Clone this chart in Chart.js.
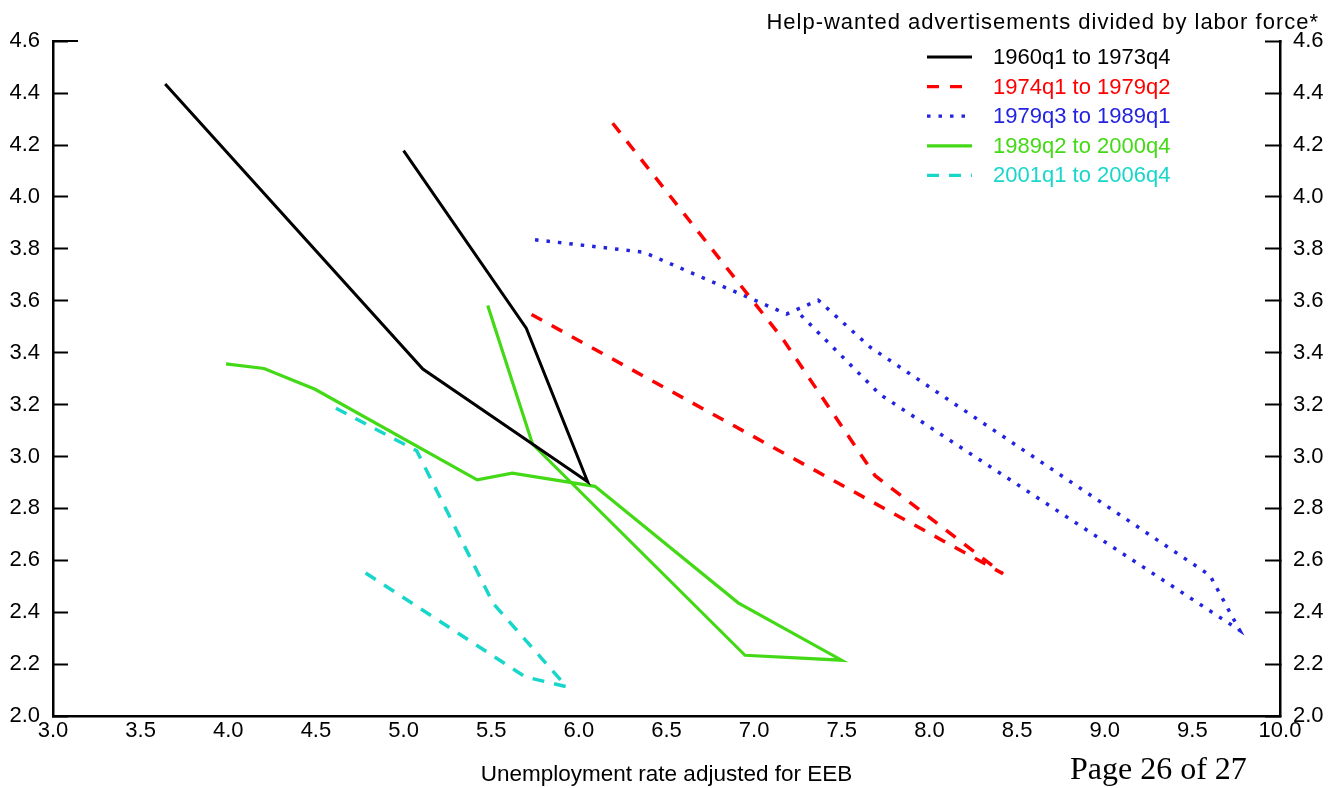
<!DOCTYPE html>
<html>
<head>
<meta charset="utf-8">
<script src="https://cdn.jsdelivr.net/npm/chart.js@4.4.1/dist/chart.umd.min.js"></script>
<style>
  html, body { margin: 0; padding: 0; background: #fff; }
</style>
</head>
<body>
<canvas id="canvas" width="1340" height="788"></canvas>
<script>
// periods shown in the legend
var periods = ['1960q1 to 1973q4', '1974q1 to 1979q2', '1979q3 to 1989q1', '1989q2 to 2000q4', '2001q1 to 2006q4'];
var colors = ['#000000', '#ff0000', '#2323e0', '#44d916', '#19d6cb'];

// tick labels
var xTicks = [3.0, 3.5, 4.0, 4.5, 5.0, 5.5, 6.0, 6.5, 7.0, 7.5, 8.0, 8.5, 9.0, 9.5, 10.0];
var yTicks = [2.0, 2.2, 2.4, 2.6, 2.8, 3.0, 3.2, 3.4, 3.6, 3.8, 4.0, 4.2, 4.4, 4.6];

// unemployment rate (x) and help-wanted ratio (y)
var u6073 = [3.64, 5.11, 6.05, 5.70, 5.00];
var v6073 = [4.435, 3.337, 2.903, 3.494, 4.178];

var u7479 = [5.73, 8.42, 7.69, 7.16, 6.16];
var v7479 = [3.547, 2.548, 2.926, 3.456, 4.312];

var u7989 = [5.75, 6.37, 7.185, 7.366, 7.662, 9.60, 9.77, 7.718, 7.235];
var v7989 = [3.835, 3.787, 3.549, 3.602, 3.421, 2.542, 2.330, 3.239, 3.566];

var u8900 = [5.48, 5.736, 6.948, 7.499, 6.909, 6.092, 5.62, 5.42, 4.495, 4.204, 3.987];
var v8900 = [3.582, 3.047, 2.234, 2.215, 2.436, 2.885, 2.936, 2.910, 3.259, 3.339, 3.357];

var u0106 = [4.614, 5.075, 5.512, 5.930, 5.693, 4.747];
var v0106 = [3.186, 3.022, 2.433, 2.113, 2.151, 2.567];

var FONT = "'Liberation Sans', Arial, Helvetica, sans-serif";

// pair up x and y arrays into points
function toPoints(xs, ys) {
  return xs.map(function (x, i) { return { x: x, y: ys[i] }; });
}

var seriesX = [u6073, u7479, u7989, u8900, u0106];
var seriesY = [v6073, v7479, v7989, v8900, v0106];
var dashes = [[], [12, 11], [3.5, 8], [], [12, 10]];
var widths = [3, 3.5, 3.5, 3.2, 3.5];

var datasets = periods.map(function (p, i) {
  return {
    label: p,
    data: toPoints(seriesX[i], seriesY[i]),
    borderColor: colors[i],
    backgroundColor: colors[i],
    borderWidth: widths[i],
    borderDash: dashes[i],
    borderCapStyle: 'butt',
    borderJoinStyle: 'miter',
    showLine: true,
    pointRadius: 0,
    tension: 0
  };
});

// legend, header and page footer drawn on top
var extras = {
  id: 'extras',
  afterDraw: function (chart) {
    var ctx = chart.ctx;
    var ya = chart.scales.y;
    ctx.save();

    // longer top tick on left axis
    ctx.strokeStyle = '#000';
    ctx.lineWidth = 2;
    var yTop = Math.round(ya.getPixelForValue(4.6));
    ctx.beginPath();
    ctx.moveTo(chart.chartArea.left, yTop);
    ctx.lineTo(chart.chartArea.left + 25, yTop);
    ctx.stroke();

    // header
    ctx.fillStyle = '#000';
    ctx.font = '22px ' + FONT;
    ctx.textAlign = 'right';
    ctx.textBaseline = 'middle';
    try { ctx.letterSpacing = '1px'; } catch (e) {}
    ctx.fillText('Help-wanted advertisements divided by labor force*', 1319, 23);
    try { ctx.letterSpacing = '0px'; } catch (e) {}

    // legend
    chart.data.datasets.forEach(function (ds, i) {
      var ly = 57 + i * 29.6;
      ctx.strokeStyle = ds.borderColor;
      ctx.lineWidth = 3.2;
      ctx.setLineDash(ds.borderDash);
      ctx.beginPath();
      ctx.moveTo(927, ly);
      ctx.lineTo(972, ly);
      ctx.stroke();
      ctx.setLineDash([]);
      ctx.fillStyle = ds.borderColor;
      ctx.font = '22px ' + FONT;
      ctx.textAlign = 'left';
      ctx.textBaseline = 'middle';
      ctx.fillText(ds.label, 993, ly + 1);
    });

    // page footer
    ctx.fillStyle = '#000';
    ctx.font = "32px 'Liberation Serif', 'Times New Roman', serif";
    ctx.textAlign = 'left';
    ctx.textBaseline = 'alphabetic';
    ctx.fillText('Page 26 of 27', 1070, 779);
    ctx.restore();
  }
};

function yAxis(pos, w) {
  return {
    type: 'linear',
    position: pos,
    min: 2,
    max: 4.6,
    afterBuildTicks: function (s) { s.ticks = yTicks.map(function (v) { return { value: v }; }); },
    afterFit: function (s) { s.width = w; },
    ticks: {
      color: '#000',
      font: { size: 22, family: FONT },
      padding: 28,
      callback: function (v) { return Number(v).toFixed(1); }
    },
    grid: {
      drawOnChartArea: false,
      drawTicks: true,
      tickLength: -15,
      tickWidth: 2,
      tickColor: '#000'
    },
    border: { display: true, color: '#000', width: 2.5 }
  };
}

new Chart(document.getElementById('canvas'), {
  type: 'scatter',
  data: { datasets: datasets },
  plugins: [extras],
  options: {
    responsive: false,
    animation: false,
    layout: { padding: { top: 39, left: 0, right: 0, bottom: 0 } },
    plugins: {
      legend: { display: false },
      tooltip: { enabled: false },
      title: { display: false }
    },
    scales: {
      x: {
        type: 'linear',
        position: 'bottom',
        min: 3,
        max: 10,
        afterBuildTicks: function (s) { s.ticks = xTicks.map(function (v) { return { value: v }; }); },
        afterFit: function (s) { s.height = 72; },
        ticks: {
          color: '#000',
          font: { size: 22, family: FONT },
          padding: 2,
          maxRotation: 0,
          autoSkip: false,
          callback: function (v) { return Number(v).toFixed(1); }
        },
        grid: { drawOnChartArea: false, drawTicks: false },
        border: { display: true, color: '#000', width: 2.5 },
        title: {
          display: true,
          text: 'Unemployment rate adjusted for EEB',
          color: '#000',
          font: { size: 22.5, family: FONT },
          padding: { top: 0, bottom: 0 }
        }
      },
      y: yAxis('left', 53),
      y2: yAxis('right', 60)
    }
  }
});
</script>
</body>
</html>
